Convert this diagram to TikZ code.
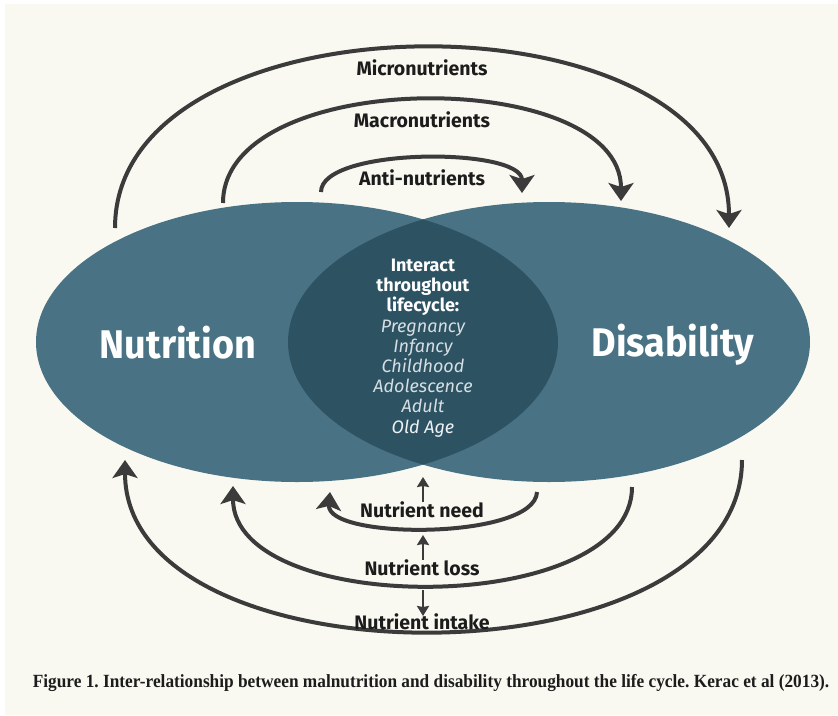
\documentclass[tikz,border=0pt]{standalone}
\usepackage{fontspec}
\setmainfont{Fira Sans}
\newfontfamily\firac[FakeStretch=0.945]{Fira Sans}
\newfontfamily\capfont[FakeStretch=0.93]{Liberation Serif}
\usetikzlibrary{arrows.meta,shapes.geometric}
\definecolor{bg}{RGB}{249,249,241}
\definecolor{ell}{RGB}{73,115,133}
\definecolor{lens}{RGB}{45,83,99}
\definecolor{arr}{RGB}{59,59,59}
\definecolor{lt}{RGB}{214,222,227}
\definecolor{ltw}{RGB}{238,242,244}
\definecolor{ink}{RGB}{28,28,28}
\frenchspacing
\begin{document}
\begin{tikzpicture}[x=1pt,y=-1pt,
  circ/.style={ellipse, fill=ell, draw=none, minimum width=522pt, minimum height=280pt, inner sep=0pt},
  bigarrow/.style={draw=arr, line width=4pt, -{Stealth[length=18pt,width=25pt,inset=4pt]}},
  smallarrow/.style={draw=arr, line width=2.5pt, -{Stealth[length=10pt,width=12pt,inset=1pt]}},
  lbl/.style={font=\bfseries\fontsize{19.5}{21}\selectfont, text=ink, inner sep=0pt},
  ttl/.style={font=\firac\bfseries\fontsize{40}{44}\selectfont, text=white, inner sep=0pt}]
% canvas
\useasboundingbox (0,0) rectangle (838,715);
\fill[white] (0,0) rectangle (838,715);
\fill[bg] (5,4) rectangle (838,715);
% ellipses
\node[circ] (nut) at (297,342) {};
\node[circ] (dis) at (549,342) {};
\begin{scope}
  \clip (297,342) ellipse [x radius=261, y radius=140];
  \fill[lens] (549,342) ellipse [x radius=261, y radius=140];
\end{scope}
% titles
\node[ttl] (nutT) at (178,343) {Nutrition};
\node[ttl] (disT) at (673,345) {Disability};
% centre text
\node[align=center, font=\fontsize{18}{20.2}\selectfont, text=white, inner sep=0pt] (life) at (423,348)
  {\textbf{Interact}\\\textbf{throughout}\\\textbf{lifecycle:}\\
   \textcolor{lt}{\itshape Pregnancy}\\\textcolor{lt}{\itshape Infancy}\\\textcolor{lt}{\itshape Childhood}\\
   \textcolor{lt}{\itshape Adolescence}\\\textcolor{lt}{\itshape Adult}\\\textcolor{ltw}{\itshape Old Age}};
% arc end points
\coordinate (m1) at (115,228); \coordinate (m2) at (729,228);
\coordinate (c1) at (223,203); \coordinate (c2) at (621,201);
\coordinate (a1) at (321,192); \coordinate (a2) at (522,193);
\coordinate (i1) at (742,460); \coordinate (i2) at (125,460);
\coordinate (l1) at (632,487); \coordinate (l2) at (233,486);
\coordinate (n1) at (537,492); \coordinate (n2) at (330,492);
% top arcs
\draw[bigarrow] (m1) .. controls (115,-12) and (729,-12) .. (m2);
\draw[bigarrow] (c1) .. controls (223,66) and (621,66) .. (c2);
\draw[bigarrow] (a1) .. controls (321,147) and (522,147) .. (a2);
% bottom arcs
\draw[bigarrow] (i1) .. controls (742,688) and (125,688) .. (i2);
\draw[bigarrow] (l1) .. controls (632,618) and (233,618) .. (l2);
\draw[bigarrow] (n1) .. controls (535,540) and (326,540) .. (n2);
% labels
\node[lbl] (micro) at (422,68) {Micronutrients};
\node[lbl] (macro) at (422,120) {Macronutrients};
\node[lbl] (anti) at (422,178) {Anti-nutrients};
\node[lbl] (need) at (422,510) {Nutrient need};
\node[lbl] (loss) at (422,568) {Nutrient loss};
\node[lbl] (intake) at (422,622) {Nutrient intake};
% small arrows
\coordinate (s1) at (423,477);
\coordinate (s2) at (423,535);
\coordinate (s3a) at (423,590); \coordinate (s3) at (423,616);
\draw[smallarrow] (need.north -| s1) -- (s1);
\draw[smallarrow] (loss.north -| s2) -- (s2);
\draw[smallarrow] (s3a) -- (s3);
% caption
\node[font=\capfont\bfseries\fontsize{18.6}{20}\selectfont, text=ink, inner sep=0pt] (cap) at (431,683)
  {Figure 1. Inter-relationship between malnutrition and disability throughout the life cycle. Kerac et al (2013).};
\end{tikzpicture}
\end{document}
